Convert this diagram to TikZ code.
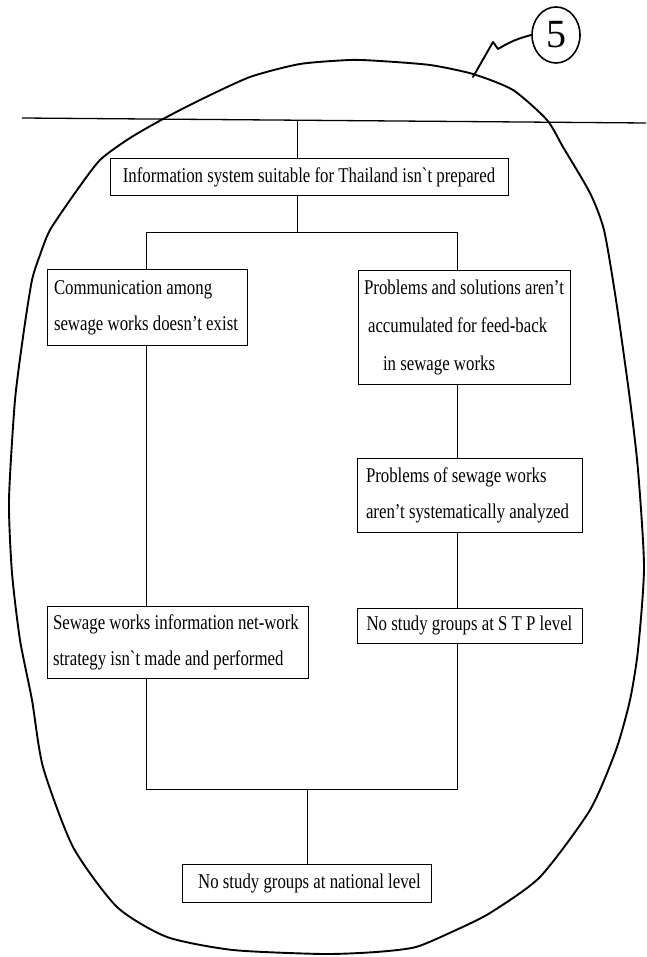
\documentclass[tikz,border=0pt]{standalone}
\usepackage{fontspec}
\usetikzlibrary{shapes.geometric}
\newfontfamily\cond[FakeStretch=0.8]{Liberation Serif}
\newfontfamily\hand{Liberation Serif}
\tikzset{
  box/.style={draw, line width=1pt, inner xsep=7pt, inner ysep=0pt,
              font=\cond\fontsize{21}{36}\selectfont},
  link/.style={line width=1pt},
  blob/.style={line width=1.9pt, line join=round, line cap=round},
}
\begin{document}
\begin{tikzpicture}[x=1pt,y=-1pt]
\useasboundingbox (0,0) rectangle (646,957);
\fill[white] (0,0) rectangle (646,957);

% rule across the page
\coordinate (ruleL) at (22,118);
\coordinate (ruleR) at (646,123);
\draw[line width=1.3pt] (ruleL) -- (ruleR);

% enclosing hand-drawn outline
\draw[blob] plot[smooth cycle, tension=0.4] coordinates {
  (350,60) (380,61) (430,65) (473,74) (513,90) (547,120) (563,147) (590,193)
  (604,230) (616,300) (630,400) (638,470) (644,567) (638,650) (630,700)
  (616,750) (590,810) (540,877) (490,913) (456,930) (416,947) (376,952)
  (323,954) (233,950) (167,937) (117,907) (73,847) (43,767) (32,700)
  (20,640) (12,573) (9,500) (15,400) (24,330) (32,280) (40,255) (50,230)
  (75,193) (100,160) (130,138) (163,119) (200,100) (250,77) (300,64)};

% circled number and its hooked pointer
\node[draw, ellipse, line width=1.6pt, minimum width=48pt, minimum height=56pt,
      inner sep=0pt, font=\hand\fontsize{40}{40}\selectfont] (five) at (556,35) {5};
\coordinate (hook) at (473,77);
\draw[blob] (hook) -- (493,42) -- (498,49) to[bend left=8] (five.west);

% boxes
\node[box, minimum width=398pt, minimum height=37pt] (top) at (309,177.5)
  {Information system suitable for Thailand isn`t prepared};
\node[box, text width=186pt, minimum height=75pt, align=flush left] (c1) at (147,307.5)
  {Communication among\\sewage works doesn’t exist};
\node[box, inner xsep=3pt, minimum width=212pt, minimum height=113pt, align=flush left,
      font=\cond\fontsize{21}{38}\selectfont] (p1) at (464,327.5)
  {Problems and solutions aren’t\\\hspace*{4pt}accumulated for feed-back\\\hspace*{19pt}in sewage works};
\node[box, inner xsep=9pt, text width=207pt, minimum height=74pt, align=flush left] (p2) at (469.5,495)
  {Problems of sewage works\\aren’t systematically analyzed};
\node[box, minimum width=225pt, minimum height=35pt] (p3) at (469.5,625.5)
  {No study groups at S T P level};
\node[box, inner xsep=6pt, text width=249pt, minimum height=72pt, align=flush left] (s1) at (177.5,642)
  {Sewage works information net-work\\strategy isn`t made and performed};
\node[box, minimum width=249pt, minimum height=38pt] (nat) at (306.5,883)
  {\hspace*{6pt}No study groups at national level};

% connector junctions
\coordinate (tm) at (297,120.2);
\coordinate (bm) at (297,233);
\coordinate (bl) at (146.5,233);
\coordinate (br) at (457.5,233);
\coordinate (jl) at (146.5,789);
\coordinate (jr) at (457.5,789);
\coordinate (jm) at (307,789);

% connectors
\draw[link] (tm) -- (tm |- top.north);
\draw[link] (top.south -| bm) -- (bm);
\draw[link] (c1.north -| bl) -- (bl) -- (br) -- (p1.north -| br);
\draw[link] (c1.south -| bl) -- (s1.north -| bl);
\draw[link] (p1.south -| br) -- (p2.north -| br);
\draw[link] (p2.south -| br) -- (p3.north -| br);
\draw[link] (s1.south -| jl) -- (jl) -- (jr) -- (p3.south -| jr);
\draw[link] (jm) -- (nat.north -| jm);
\end{tikzpicture}
\end{document}
